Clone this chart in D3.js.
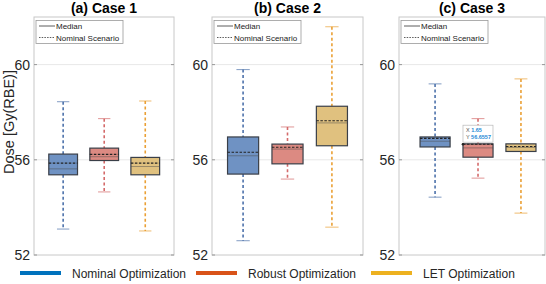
<!DOCTYPE html>
<html><head><meta charset="utf-8">
<script src="https://cdn.jsdelivr.net/npm/d3@7"></script>
<style>body{margin:0;background:#fff}svg{display:block;font-family:"Liberation Sans",Arial,sans-serif}</style>
</head><body><svg id="c" width="546" height="284"></svg>
<script>
const panelTitles = ["(a) Case 1", "(b) Case 2", "(c) Case 3"];
const methods = ["Nominal Optimization", "Robust Optimization", "LET Optimization"];
const yTicks = [52, 56, 60];
const case1Lo  = [53.09, 54.65, 53.01];
const case1Q1  = [55.37, 55.97, 55.37];
const case1Med = [55.62, 56.13, 55.72];
const case1Q3  = [56.24, 56.49, 56.10];
const case1Hi  = [58.44, 57.73, 58.47];
const case1Nom = [55.86, 56.23, 55.86];

const case2Lo  = [52.60, 55.19, 53.17];
const case2Q1  = [55.40, 55.83, 56.59];
const case2Med = [56.17, 56.45, 57.55];
const case2Q3  = [56.96, 56.66, 58.25];
const case2Hi  = [59.79, 57.38, 61.59];
const case2Nom = [56.32, 56.53, 57.64];

const case3Lo  = [54.43, 55.23, 53.76];
const case3Q1  = [56.54, 56.11, 56.35];
const case3Med = [56.78, 56.50, 56.52];
const case3Q3  = [56.96, 56.67, 56.67];
const case3Hi  = [59.19, 57.73, 59.40];
const case3Nom = [56.90, 56.6557, 56.56];

const dataTipX = 1.65, dataTipY = 56.6557;

const panels = [
  {lo: case1Lo, q1: case1Q1, med: case1Med, q3: case1Q3, hi: case1Hi, nom: case1Nom},
  {lo: case2Lo, q1: case2Q1, med: case2Med, q3: case2Q3, hi: case2Hi, nom: case2Nom},
  {lo: case3Lo, q1: case3Q1, med: case3Med, q3: case3Q3, hi: case3Hi, nom: case3Nom}
];

const layout = [
  {x0: 34, x1: 174, dom: [0.29, 3.7]},
  {x0: 212, x1: 363, dom: [0.30, 3.7]},
  {x0: 399, x1: 545, dom: [0.16, 3.56]}
];
const fills = ["#6f92c3", "#dc8a82", "#e0c17f"];
const whisk = ["#4d72ab", "#d46a6a", "#eaa035"];
const legendCols = ["#0072BD", "#D95319", "#EDB120"];

const svg = d3.select("#c");
const y = d3.scaleLinear().domain([52, 62]).range([255, 17]);

panels.forEach((p, pi) => {
  const L = layout[pi];
  const x = d3.scaleLinear().domain(L.dom).range([L.x0, L.x1]);
  const g = svg.append("g");
  const top = y(62), bot = y(52);
  g.selectAll(".grid").data(yTicks.slice(1)).join("line")
    .attr("x1", L.x0).attr("x2", L.x1).attr("y1", d => y(d)).attr("y2", d => y(d))
    .attr("stroke", "#e8e8e8").attr("stroke-width", 1);
  g.append("rect").attr("x", L.x0).attr("y", top).attr("width", L.x1 - L.x0).attr("height", bot - top)
    .attr("fill", "none").attr("stroke", "#c8c8c8").attr("stroke-width", 1);
  yTicks.forEach(t => {
    g.append("line").attr("x1", L.x0).attr("x2", L.x0 + 3).attr("y1", y(t)).attr("y2", y(t)).attr("stroke", "#999");
    g.append("line").attr("x1", L.x1 - 3).attr("x2", L.x1).attr("y1", y(t)).attr("y2", y(t)).attr("stroke", "#999");
    g.append("text").attr("x", L.x0 - 4).attr("y", y(t) + 5).attr("text-anchor", "end")
      .attr("font-size", 14).attr("fill", "#262626").text(t);
  });
  g.append("text").attr("x", (L.x0 + L.x1) / 2).attr("y", 13).attr("text-anchor", "middle")
    .attr("font-size", 14).attr("font-weight", "bold").attr("fill", "#000").text(panelTitles[pi]);

  const bw = 0.35;
  methods.forEach((m, i) => {
    const c = i + 1;
    [[p.hi[i], p.q3[i]], [p.q1[i], p.lo[i]]].forEach(([a, b]) => {
      g.append("line").attr("x1", x(c)).attr("x2", x(c)).attr("y1", y(a)).attr("y2", y(b))
        .attr("stroke", whisk[i]).attr("stroke-width", 1.6).attr("stroke-dasharray", "3,2.5");
    });
    [p.hi[i], p.lo[i]].forEach(v => {
      g.append("line").attr("x1", x(c - 0.15)).attr("x2", x(c + 0.15)).attr("y1", y(v)).attr("y2", y(v))
        .attr("stroke", whisk[i]).attr("stroke-width", 1).attr("opacity", 0.7);
    });
    g.append("rect").attr("x", x(c - bw)).attr("y", y(p.q3[i])).attr("width", x(c + bw) - x(c - bw))
      .attr("height", y(p.q1[i]) - y(p.q3[i])).attr("fill", fills[i]).attr("stroke", "#3a3f48").attr("stroke-width", 1.2);
    g.append("line").attr("x1", x(c - bw)).attr("x2", x(c + bw)).attr("y1", y(p.med[i])).attr("y2", y(p.med[i]))
      .attr("stroke", "#4a4a4a").attr("stroke-width", 0.8).attr("opacity", 0.6);
    g.append("line").attr("x1", x(c - bw)).attr("x2", x(c + bw)).attr("y1", y(p.nom[i])).attr("y2", y(p.nom[i]))
      .attr("stroke", "#222").attr("stroke-width", 1.1).attr("stroke-dasharray", "2.5,1.5");
  });

  const lx = L.x0 + 2, ly = top + 3.5;
  g.append("rect").attr("x", lx).attr("y", ly).attr("width", 87).attr("height", 23)
    .attr("fill", "#fff").attr("stroke", "#9a9a9a").attr("stroke-width", 0.8);
  g.append("line").attr("x1", lx + 3).attr("x2", lx + 19).attr("y1", ly + 5.5).attr("y2", ly + 5.5).attr("stroke", "#333").attr("stroke-width", 0.8);
  g.append("line").attr("x1", lx + 3).attr("x2", lx + 19).attr("y1", ly + 17).attr("y2", ly + 17).attr("stroke", "#333").attr("stroke-width", 0.8).attr("stroke-dasharray", "1.5,1.2");
  g.append("text").attr("x", lx + 20).attr("y", ly + 8.5).attr("font-size", 8).attr("fill", "#222").text("Median");
  g.append("text").attr("x", lx + 20).attr("y", ly + 20).attr("font-size", 8).attr("fill", "#222").text("Nominal Scenario");

  if (pi === 2) {
    const tx = x(dataTipX), ty = y(dataTipY);
    const tg = g.append("g");
    tg.append("rect").attr("x", tx).attr("y", ty - 19).attr("width", 30).attr("height", 17)
      .attr("fill", "#fff").attr("stroke", "#b8b8b8").attr("stroke-width", 0.7);
    tg.append("text").attr("x", tx + 3).attr("y", ty - 12).attr("font-size", 5.5).attr("fill", "#555")
      .html('X <tspan fill="#1f8ad6" font-weight="bold">' + dataTipX + '</tspan>');
    tg.append("text").attr("x", tx + 3).attr("y", ty - 5).attr("font-size", 5.5).attr("fill", "#555")
      .html('Y <tspan fill="#1f8ad6" font-weight="bold">' + dataTipY + '</tspan>');
    tg.append("circle").attr("cx", tx).attr("cy", ty).attr("r", 1.3).attr("fill", "#222");
  }
});

svg.append("text").attr("transform", "translate(14,122) rotate(-90)").attr("text-anchor", "middle")
  .attr("font-size", 14.5).attr("fill", "#262626").text("Dose [Gy(RBE)]");

const legX = [20, 196, 371];
methods.forEach((m, i) => {
  svg.append("line").attr("x1", legX[i]).attr("x2", legX[i] + 41).attr("y1", 273).attr("y2", 273)
    .attr("stroke", legendCols[i]).attr("stroke-width", 4);
  svg.append("text").attr("x", legX[i] + 52).attr("y", 277.5).attr("font-size", 12).attr("fill", "#262626").text(m);
});
</script></body></html>
